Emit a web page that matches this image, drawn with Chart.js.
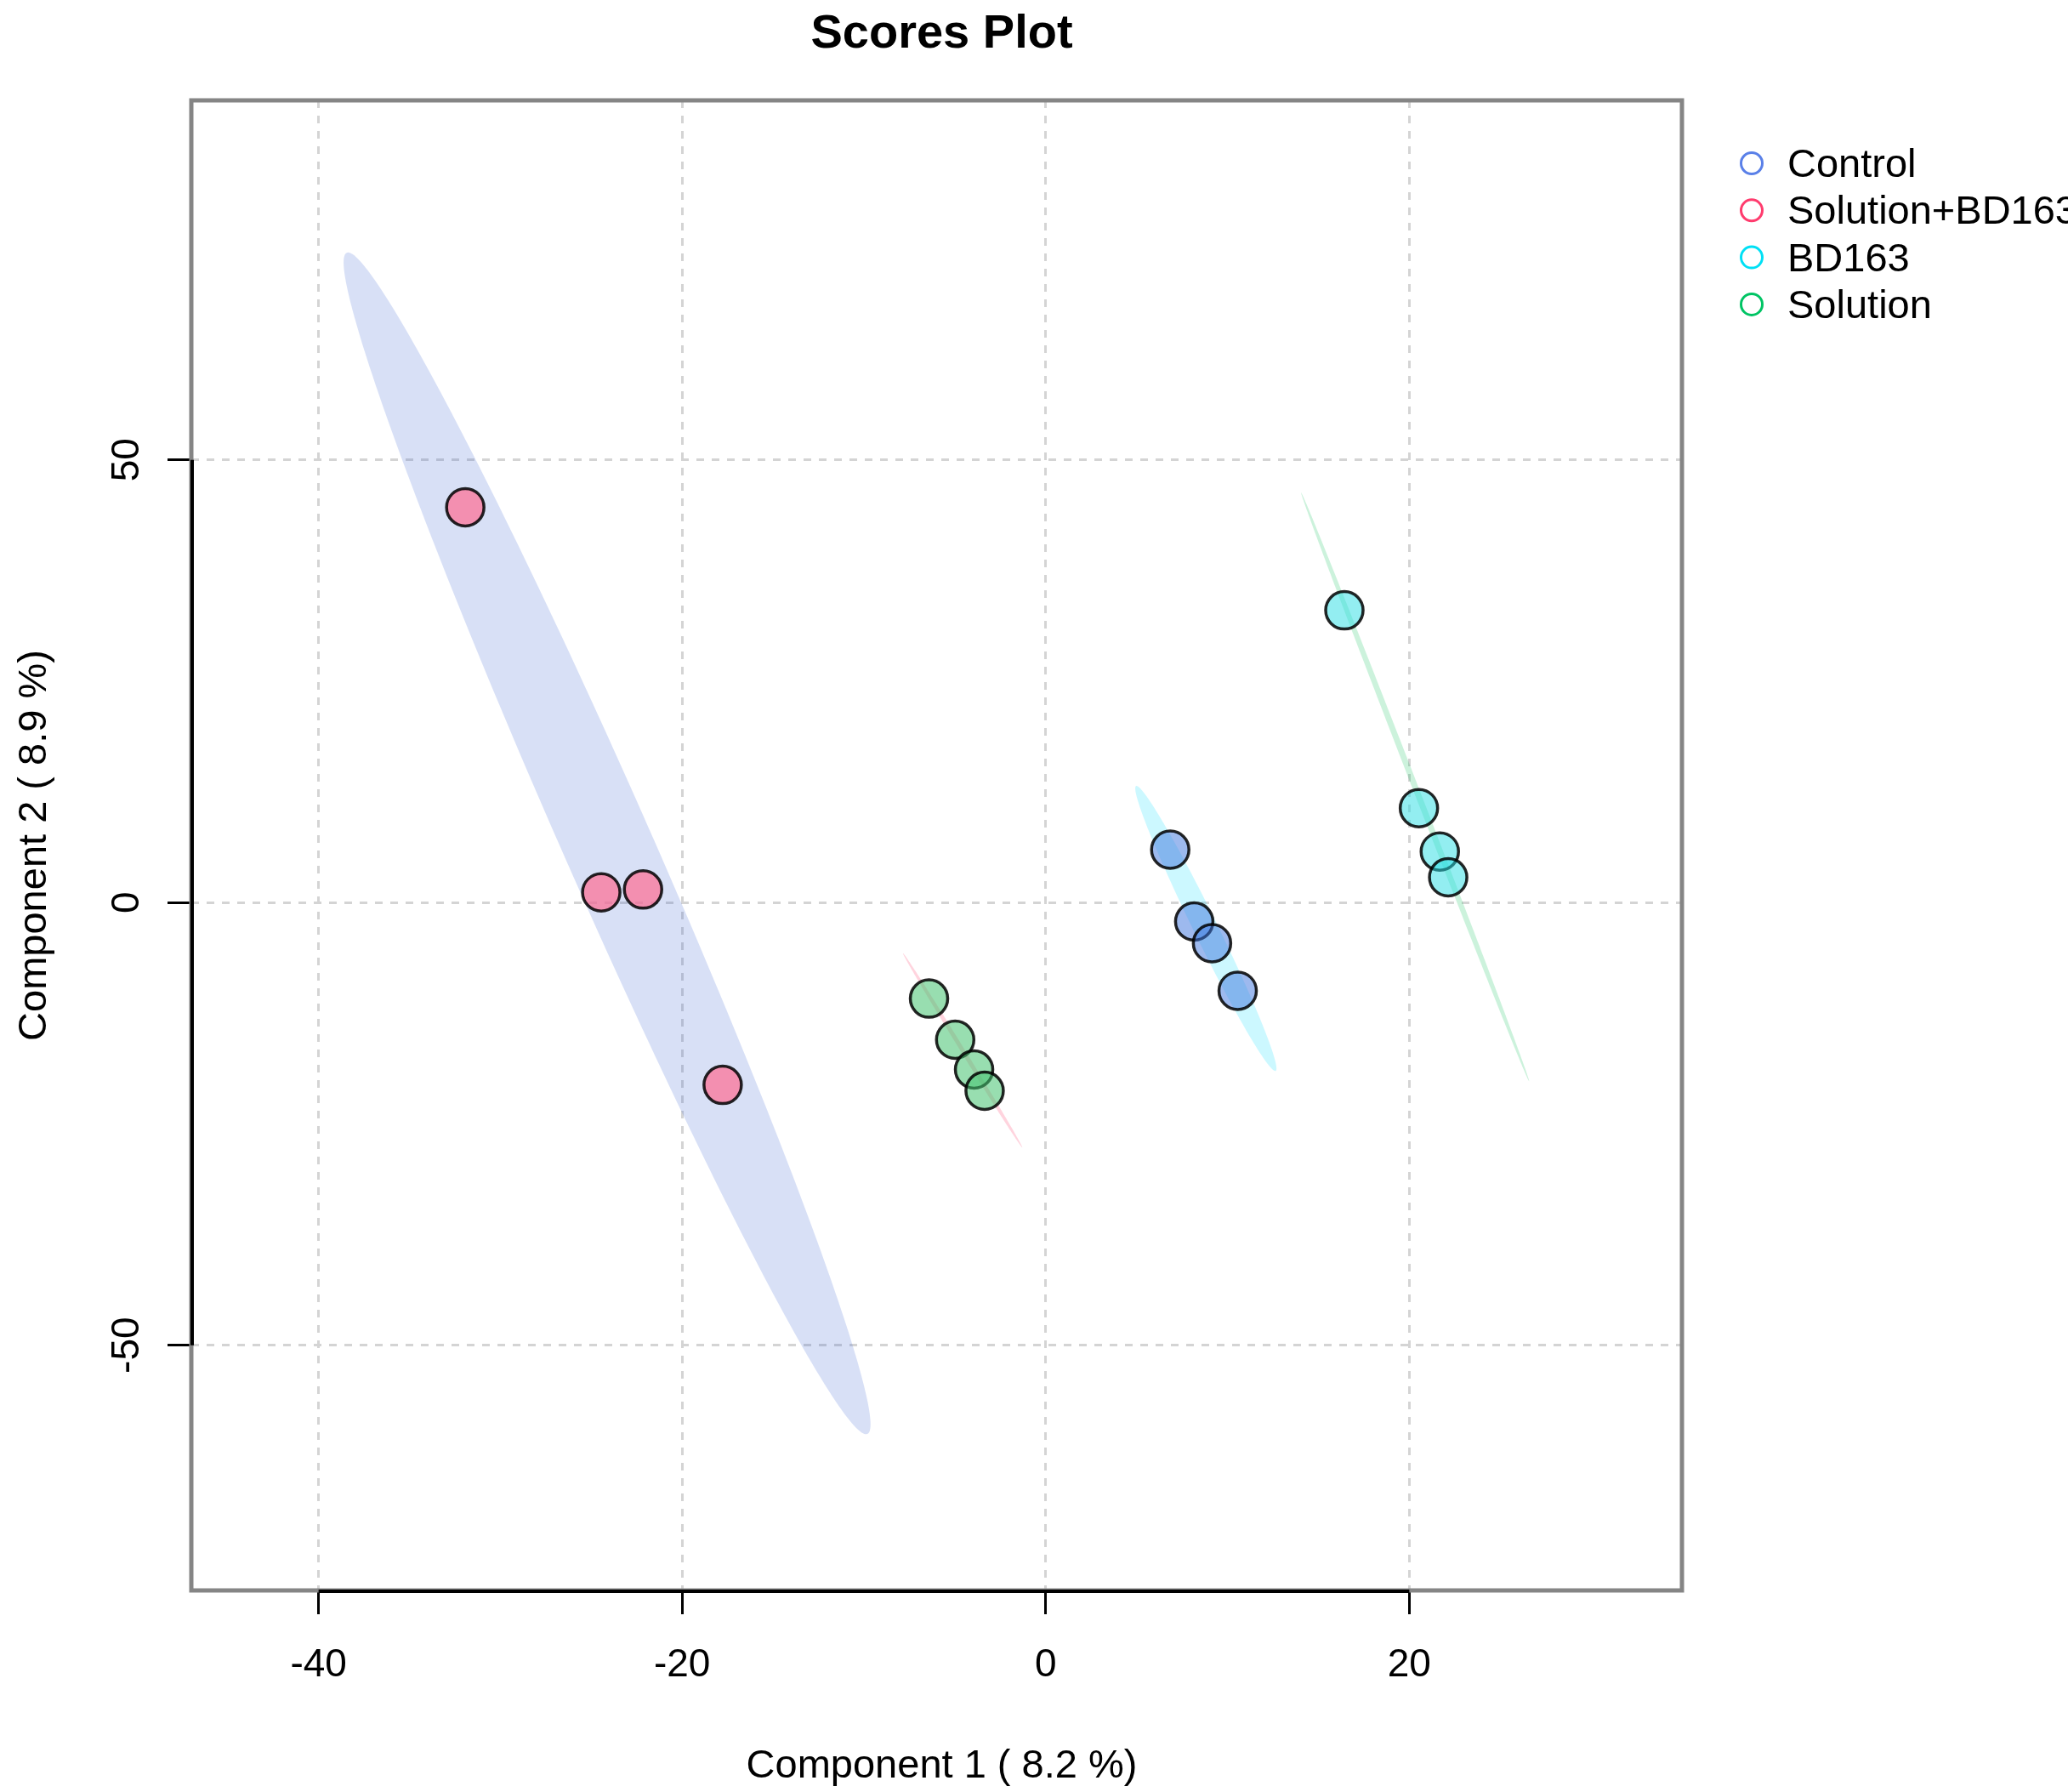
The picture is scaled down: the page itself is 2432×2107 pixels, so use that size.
<!DOCTYPE html>
<html><head><meta charset="utf-8">
<script src="https://cdn.jsdelivr.net/npm/chart.js@4.4.1/dist/chart.umd.min.js"></script>
<style>html,body{margin:0;padding:0;background:#fff;overflow:hidden}#wrap{width:2432px;height:2107px;position:relative}</style>
</head><body><div id="wrap"><canvas id="c" width="2432" height="2107"></canvas></div>
<script>
// ---- data ----
const groups = ['Control', 'Solution+BD163', 'BD163', 'Solution'];
const controlX = [6.85, 8.17, 9.15, 10.56];
const controlY = [5.97, -2.15, -4.6, -9.97];
const solBDX = [-31.93, -24.45, -22.15, -17.77];
const solBDY = [44.64, 1.15, 1.47, -20.6];
const bd163X = [16.43, 20.53, 21.68, 22.14];
const bd163Y = [33.0, 10.66, 5.76, 2.85];
const solutionX = [-6.42, -4.98, -3.94, -3.36];
const solutionY = [-10.85, -15.5, -18.86, -21.26];
const xTicks = [-40, -20, 0, 20];
const yTicks = [-50, 0, 50];
const xRange = [-47.0, 35.0];
const yRange = [-77.7, 90.6];
const titleText = 'Scores Plot';
const xTitle = 'Component 1 ( 8.2 %)';
const yTitle = 'Component 2 ( 8.9 %)';
// confidence ellipses in data units (one per group, same order as groups)
const ellCX = [8.81, -24.13, 20.32, -4.57];
const ellCY = [-2.93, 6.68, 13.06, -16.7];
const ellUX = [3.84, 14.32, 6.27, 3.28];
const ellUY = [-16.09, -66.71, -33.24, -10.97];
const ellVX = [0.588, 2.23, 0.153, 0.100];
const ellVY = [0.592, 2.01, 0.121, 0.126];

// ---- styles ----
const legendColors = ['#5a80e8', '#ff3c6e', '#00e0f5', '#00c464'];
const pointFills = ['rgba(60,115,222,0.5)', 'rgba(255,108,147,0.7)', 'rgba(40,222,228,0.5)', 'rgba(68,195,111,0.55)'];
const ellFills = ['rgba(0,220,255,0.2)', 'rgba(60,100,210,0.2)', 'rgba(0,190,80,0.2)', 'rgba(255,40,90,0.2)'];
const FONT = '"Liberation Sans", Arial, sans-serif';

const xs = [controlX, solBDX, bd163X, solutionX];
const ys = [controlY, solBDY, bd163Y, solutionY];
const datasets = groups.map((g, k) => ({
  label: g,
  data: xs[k].map((v, i) => ({x: v, y: ys[k][i]})),
  backgroundColor: pointFills[k],
  borderColor: 'rgba(0,0,0,0.85)',
  borderWidth: 3.5,
  pointRadius: 22,
  pointHoverRadius: 22
}));

const ellipsePlugin = {
  id: 'ellipses',
  beforeDatasetsDraw(chart) {
    const {ctx, chartArea: a, scales: {x, y}} = chart;
    ctx.save();
    ctx.beginPath(); ctx.rect(a.left, a.top, a.width, a.height); ctx.clip();
    for (let k = 0; k < ellCX.length; k++) {
      ctx.beginPath();
      const n = 240;
      for (let i = 0; i <= n; i++) {
        const t = i / n * 2 * Math.PI;
        const dx = ellCX[k] + ellUX[k] * Math.cos(t) + ellVX[k] * Math.sin(t);
        const dy = ellCY[k] + ellUY[k] * Math.cos(t) + ellVY[k] * Math.sin(t);
        const px = x.getPixelForValue(dx), py = y.getPixelForValue(dy);
        if (i === 0) ctx.moveTo(px, py); else ctx.lineTo(px, py);
      }
      ctx.closePath();
      ctx.fillStyle = ellFills[k];
      ctx.fill();
    }
    ctx.restore();
  }
};

const framePlugin = {
  id: 'frame',
  afterDatasetsDraw(chart) {
    const {ctx, chartArea: a, scales: {x, y}} = chart;
    ctx.save();
    ctx.strokeStyle = '#858585';
    ctx.lineWidth = 5;
    ctx.strokeRect(a.left, a.top, a.right - a.left, a.bottom - a.top);
    ctx.strokeStyle = '#000';
    ctx.lineWidth = 4;
    ctx.beginPath();
    ctx.moveTo(x.getPixelForValue(xTicks[0]), a.bottom + 1);
    ctx.lineTo(x.getPixelForValue(xTicks[xTicks.length - 1]), a.bottom + 1);
    ctx.moveTo(a.left + 1, y.getPixelForValue(yTicks[0]));
    ctx.lineTo(a.left + 1, y.getPixelForValue(yTicks[yTicks.length - 1]));
    ctx.stroke();
    ctx.restore();
  },
  afterDraw(chart) {
    const {ctx, chartArea: a, scales: {x, y}} = chart;
    ctx.save();
    ctx.fillStyle = '#000';
    // tick labels
    ctx.font = '46px ' + FONT;
    ctx.textAlign = 'center';
    ctx.textBaseline = 'alphabetic';
    x.ticks.forEach(t => ctx.fillText(String(t.value), x.getPixelForValue(t.value), a.bottom + 101));
    y.ticks.forEach(t => {
      ctx.save();
      ctx.translate(a.left - 62, y.getPixelForValue(t.value));
      ctx.rotate(-Math.PI / 2);
      ctx.fillText(String(t.value), 0, 0);
      ctx.restore();
    });
    // axis titles
    ctx.font = '47px ' + FONT;
    ctx.fillText(xTitle, (a.left + a.right) / 2 + 6, 2090);
    ctx.save();
    ctx.translate(54, (a.top + a.bottom) / 2);
    ctx.rotate(-Math.PI / 2);
    ctx.fillText(yTitle, 0, 0);
    ctx.restore();
    // title
    ctx.font = 'bold 56px ' + FONT;
    ctx.fillText(titleText, (a.left + a.right) / 2 + 6, 56);
    // legend
    ctx.textAlign = 'left';
    ctx.font = '47px ' + FONT;
    groups.forEach((g, k) => {
      const cy = 192 + k * 55.3;
      ctx.beginPath();
      ctx.arc(2060, cy, 12.5, 0, 2 * Math.PI);
      ctx.strokeStyle = legendColors[k];
      ctx.lineWidth = 3;
      ctx.stroke();
      ctx.fillStyle = '#000';
      ctx.fillText(g, 2102, cy + 16);
    });
    ctx.restore();
  }
};

const gridCommon = {
  display: true,
  color: '#d4d4d4',
  lineWidth: 3,
  drawOnChartArea: true,
  drawTicks: true,
  tickLength: 28,
  tickColor: '#000',
  tickWidth: 3,
  tickBorderDash: []
};

new Chart(document.getElementById('c'), {
  type: 'scatter',
  data: {datasets},
  options: {
    responsive: false,
    devicePixelRatio: 1,
    animation: false,
    events: [],
    layout: {padding: {top: 118, right: 454, left: 0, bottom: 0}},
    plugins: {legend: {display: false}, tooltip: {enabled: false}, title: {display: false}},
    scales: {
      x: {
        type: 'linear', position: 'bottom', min: xRange[0], max: xRange[1],
        afterBuildTicks: s => { s.ticks = xTicks.map(v => ({value: v})); },
        afterFit: s => { s.height = 237; },
        ticks: {display: false, autoSkip: false},
        grid: gridCommon,
        border: {display: false, dash: [9, 9]}
      },
      y: {
        type: 'linear', position: 'left', min: yRange[0], max: yRange[1],
        afterBuildTicks: s => { s.ticks = yTicks.map(v => ({value: v})); },
        afterFit: s => { s.width = 225; },
        ticks: {display: false, autoSkip: false},
        grid: gridCommon,
        border: {display: false, dash: [9, 9]}
      }
    }
  },
  plugins: [ellipsePlugin, framePlugin]
});
</script></body></html>
